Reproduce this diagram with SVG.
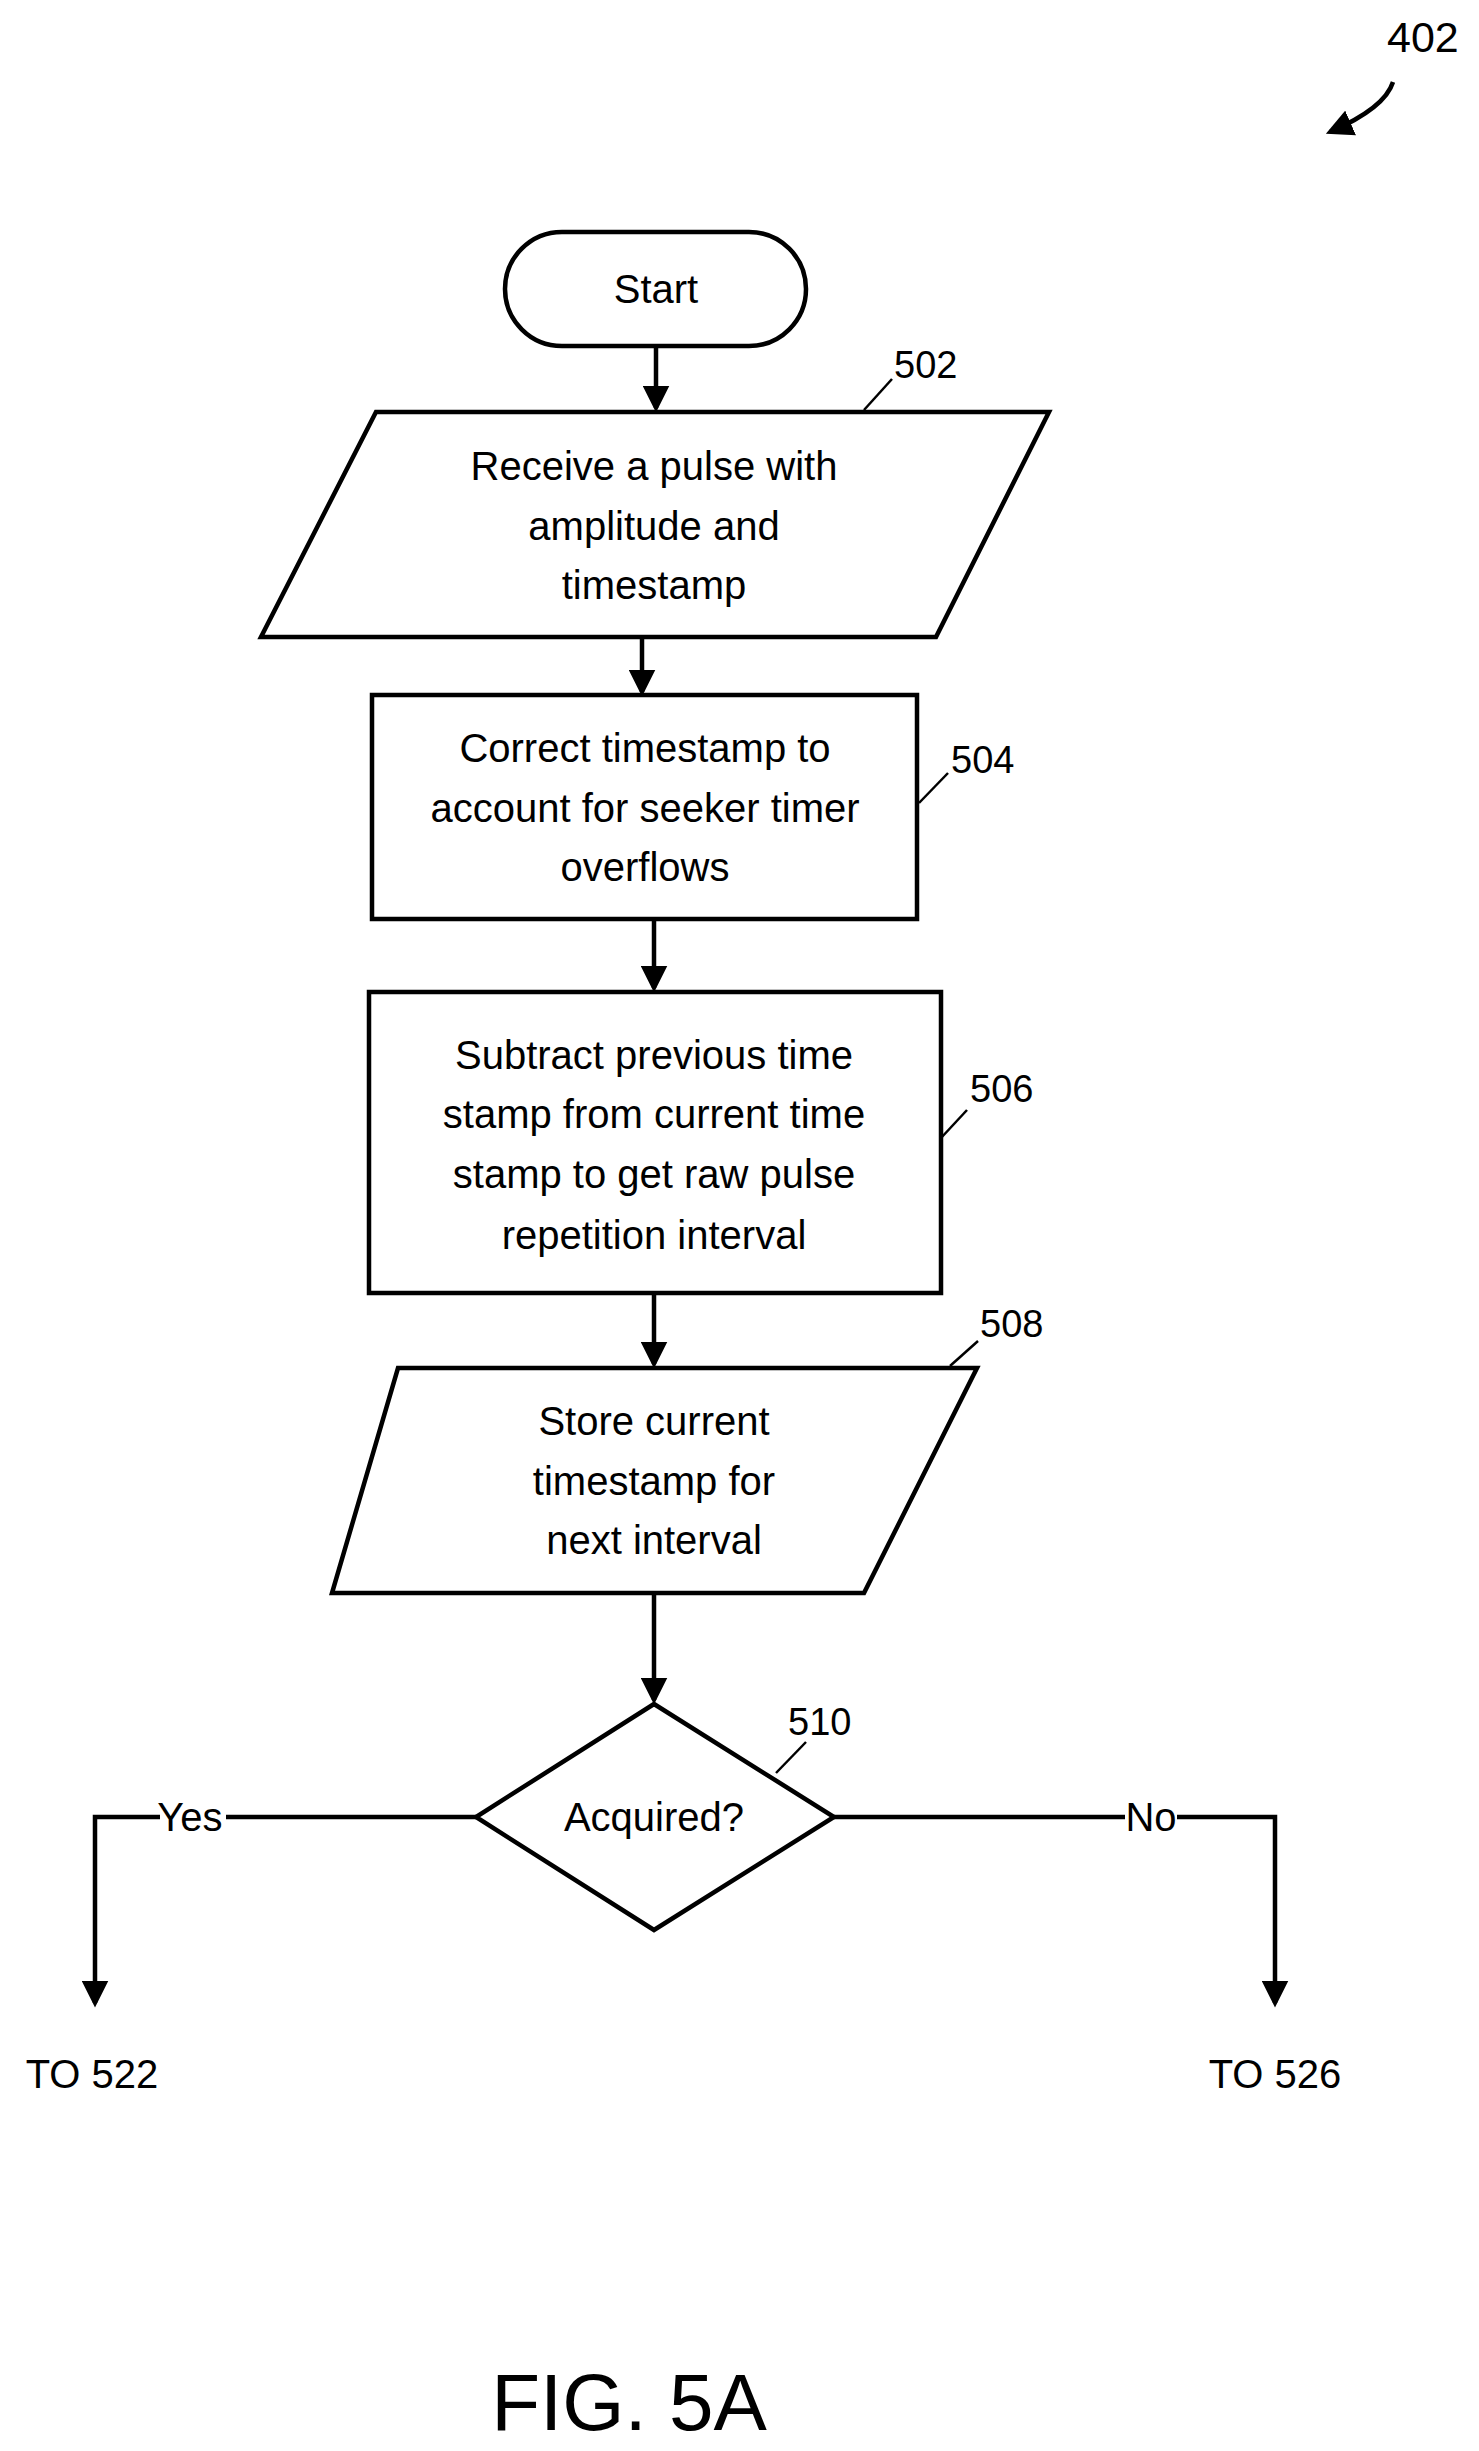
<svg xmlns="http://www.w3.org/2000/svg" width="1479" height="2451" viewBox="0 0 1479 2451">
<style>
.s{fill:#fff;stroke:#000;stroke-width:4.5}
.l{fill:none;stroke:#000;stroke-width:4.5}
.t{font-family:"Liberation Sans",Arial,sans-serif;font-size:40px;text-anchor:middle;fill:#000}
.r{font-family:"Liberation Sans",Arial,sans-serif;font-size:38px;fill:#000}
.thin{fill:none;stroke:#000;stroke-width:2.5}
</style>
<defs><marker id="a" markerWidth="6" markerHeight="6" refX="5" refY="3" orient="auto" markerUnits="strokeWidth"><path d="M0,0L6,3L0,6z" fill="#000"/></marker></defs>
<rect width="1479" height="2451" fill="#fff"/>
<g id="ref402"><text class="r" x="1387" y="52" style="font-size:43px">402</text><path d="M1393,82 Q1385,108 1330,132" class="l" marker-end="url(#a)"/></g>
<g id="connectors">
<line x1="656" y1="346" x2="656" y2="408" class="l" marker-end="url(#a)"/>
<line x1="642" y1="637" x2="642" y2="692" class="l" marker-end="url(#a)"/>
<line x1="654" y1="919" x2="654" y2="988" class="l" marker-end="url(#a)"/>
<line x1="654" y1="1293" x2="654" y2="1364" class="l" marker-end="url(#a)"/>
<line x1="654" y1="1593" x2="654" y2="1700" class="l" marker-end="url(#a)"/>
<polyline points="476,1817 95,1817 95,2003" class="l" marker-end="url(#a)"/>
<polyline points="834,1817 1275,1817 1275,2003" class="l" marker-end="url(#a)"/>
<rect x="160" y="1795" width="66" height="40" fill="#fff"/>
<text class="t" x="190" y="1831">Yes</text>
<rect x="1125" y="1795" width="52" height="40" fill="#fff"/>
<text class="t" x="1151" y="1831">No</text>
</g>
<g id="start"><rect x="505" y="232" width="301" height="114" rx="57" class="s"/><text class="t" x="656" y="303">Start</text></g>
<g id="n502"><polygon points="376,412 1049,412 936,637 261,637" class="s"/>
<text class="t" x="654" y="480">Receive a pulse with</text><text class="t" x="654" y="540">amplitude and</text><text class="t" x="654" y="599">timestamp</text>
<line x1="864" y1="410" x2="892" y2="379" class="thin"/><text class="r" x="894" y="378">502</text></g>
<g id="n504"><rect x="372" y="695" width="545" height="224" class="s"/>
<text class="t" x="645" y="762">Correct timestamp to</text><text class="t" x="645" y="822">account for seeker timer</text><text class="t" x="645" y="881">overflows</text>
<line x1="919" y1="803" x2="948" y2="773" class="thin"/><text class="r" x="951" y="773">504</text></g>
<g id="n506"><rect x="369" y="992" width="572" height="301" class="s"/>
<text class="t" x="654" y="1069">Subtract previous time</text><text class="t" x="654" y="1128">stamp from current time</text><text class="t" x="654" y="1188">stamp to get raw pulse</text><text class="t" x="654" y="1249">repetition interval</text>
<line x1="941" y1="1138" x2="967" y2="1110" class="thin"/><text class="r" x="970" y="1102">506</text></g>
<g id="n508"><polygon points="398,1368 977,1368 864,1593 332,1593" class="s"/>
<text class="t" x="654" y="1435">Store current</text><text class="t" x="654" y="1495">timestamp for</text><text class="t" x="654" y="1554">next interval</text>
<line x1="950" y1="1366" x2="978" y2="1341" class="thin"/><text class="r" x="980" y="1337">508</text></g>
<g id="n510"><polygon points="654,1704 834,1817 654,1930 476,1817" class="s"/>
<text class="t" x="654" y="1831">Acquired?</text>
<line x1="776" y1="1773" x2="806" y2="1742" class="thin"/><text class="r" x="788" y="1735">510</text></g>
<g id="out"><text class="t" x="92" y="2088">TO 522</text><text class="t" x="1275" y="2088">TO 526</text></g>
<text class="t" x="629" y="2430" style="font-size:80px">FIG. 5A</text>
</svg>
